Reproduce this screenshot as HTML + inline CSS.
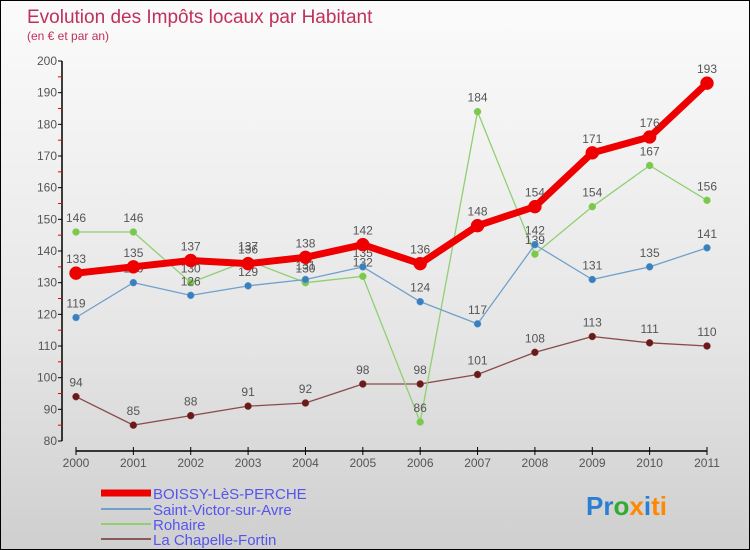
<!DOCTYPE html>
<html><head><meta charset="utf-8"><style>
body{margin:0}
#c{width:748px;height:548px;border:1px solid #000;background:linear-gradient(#fbfbfb,#e6e6e6 60%,#cfcfcf);position:relative;overflow:hidden;font-family:"Liberation Sans",sans-serif}
</style></head><body>
<div id="c">
<svg width="748" height="548" xmlns="http://www.w3.org/2000/svg" id="svg">
<text x="26" y="22" font-size="19" fill="#c0305a">Evolution des Impôts locaux par Habitant</text>
<text x="26" y="39" font-size="12" fill="#c0305a">(en € et par an)</text>
<g id="axes"></g><g id="series"></g>
<g font-size="15" fill="#5555ee">
<line x1="100" y1="492" x2="150" y2="492" stroke="#e00" stroke-width="7"/>
<text x="152" y="498">BOISSY-LèS-PERCHE</text>
<line x1="100" y1="508" x2="150" y2="508" stroke="#6fa0cc" stroke-width="2"/>
<text x="152" y="514">Saint-Victor-sur-Avre</text>
<line x1="100" y1="523" x2="150" y2="523" stroke="#90d070" stroke-width="2"/>
<text x="152" y="529">Rohaire</text>
<line x1="100" y1="538" x2="150" y2="538" stroke="#8a5a5a" stroke-width="2"/>
<text x="152" y="544">La Chapelle-Fortin</text>
</g>
<text x="585" y="514" font-size="26" font-weight="bold"><tspan fill="#2a7fd0">Pr</tspan><tspan fill="#3a3">o</tspan><tspan fill="#f80">x</tspan><tspan fill="#2a7fd0">i</tspan><tspan fill="#f80">ti</tspan></text>
</svg></div>
<script>
const years=[2000,2001,2002,2003,2004,2005,2006,2007,2008,2009,2010,2011];
const boissy=[133,135,137,136,138,142,136,148,154,171,176,193];
const stVictor=[119,130,126,129,131,135,124,117,142,131,135,141];
const rohaire=[146,146,130,137,130,132,86,184,139,154,167,156];
const chapelle=[94,85,88,91,92,98,98,101,108,113,111,110];
const yTicks=[80,90,100,110,120,130,140,150,160,170,180,190,200];
const NS="http://www.w3.org/2000/svg";
const x=i=>75+i*(706-75)/(years.length-1);
const y=v=>440-(v-80)*(380/120);
function mk(t,a,p){const e=document.createElementNS(NS,t);for(const k in a)e.setAttribute(k,a[k]);p.appendChild(e);return e;}
const ax=document.getElementById('axes'),se=document.getElementById('series');
let l=mk('line',{x1:61,y1:60,x2:61,y2:440,stroke:'#000','stroke-width':1.5},ax);


yTicks.forEach((v,i)=>{
 mk('line',{x1:57,y1:y(v),x2:61,y2:y(v),stroke:'#000'},ax);
 if(i<yTicks.length-1)mk('line',{x1:57,y1:y(v+5),x2:61,y2:y(v+5),stroke:'#e00'},ax);
 const t=mk('text',{x:56,y:y(v)+4,'text-anchor':'end','font-size':12,fill:'#555'},ax);t.textContent=v;
 
 
});
l=mk('line',{x1:75,y1:450,x2:706,y2:450,stroke:'#000','stroke-width':1.5},ax);


years.forEach((yr,i)=>{
 mk('line',{x1:x(i),y1:446,x2:x(i),y2:454,stroke:'#000'},ax);
 const t=mk('text',{x:x(i),y:466,'text-anchor':'middle','font-size':12,fill:'#555'},ax);t.textContent=yr;
 
 
});
function draw(data,color,w,r,name,dot){
 const g=mk('g',{},se);
 
 
 mk('polyline',{points:data.map((v,i)=>x(i)+','+y(v)).join(' '),fill:'none',stroke:color,'stroke-width':w,'stroke-linejoin':'round'},g);
 data.forEach((v,i)=>{
  const c=mk('circle',{cx:x(i),cy:y(v),r:r,fill:dot,stroke:color,'stroke-width':0.5},g);
  
  
  const t=mk('text',{x:x(i),y:y(v)-10,'text-anchor':'middle','font-size':12,fill:'#555'},g);t.textContent=v;
  
  
 });
}
draw(chapelle,'#8a4a4a',1.3,3.5,'series-la-chapelle','#6b1a1a');
draw(rohaire,'#90d070',1.3,3.5,'series-rohaire','#7cc84a');
draw(stVictor,'#6fa0cc',1.3,3.5,'series-saint-victor','#3a80c0');
draw(boissy,'#ee0000',7,6.5,'series-boissy','#ee0000');
</script>
</body></html>
